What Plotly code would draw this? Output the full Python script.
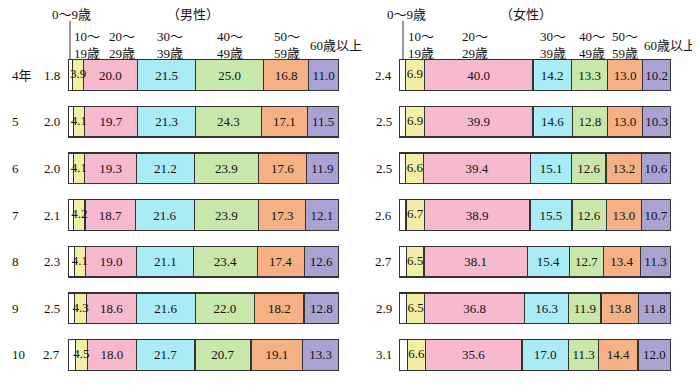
import plotly.graph_objects as go

years = ["4年", "5", "6", "7", "8", "9", "10"]
age_groups = ["0～9歳", "10～19歳", "20～29歳", "30～39歳", "40～49歳", "50～59歳", "60歳以上"]
header_labels = ["0～9歳", "10～<br>19歳", "20～<br>29歳", "30～<br>39歳", "40～<br>49歳", "50～<br>59歳", "60歳以上"]

male = [
    [1.8, 3.9, 20.0, 21.5, 25.0, 16.8, 11.0],
    [2.0, 4.1, 19.7, 21.3, 24.3, 17.1, 11.5],
    [2.0, 4.1, 19.3, 21.2, 23.9, 17.6, 11.9],
    [2.1, 4.2, 18.7, 21.6, 23.9, 17.3, 12.1],
    [2.3, 4.1, 19.0, 21.1, 23.4, 17.4, 12.6],
    [2.5, 4.3, 18.6, 21.6, 22.0, 18.2, 12.8],
    [2.7, 4.5, 18.0, 21.7, 20.7, 19.1, 13.3],
]
female = [
    [2.4, 6.9, 40.0, 14.2, 13.3, 13.0, 10.2],
    [2.5, 6.9, 39.9, 14.6, 12.8, 13.0, 10.3],
    [2.5, 6.6, 39.4, 15.1, 12.6, 13.2, 10.6],
    [2.6, 6.7, 38.9, 15.5, 12.6, 13.0, 10.7],
    [2.7, 6.5, 38.1, 15.4, 12.7, 13.4, 11.3],
    [2.9, 6.5, 36.8, 16.3, 11.9, 13.8, 11.8],
    [3.1, 6.6, 35.6, 17.0, 11.3, 14.4, 12.0],
]
colors = ["#ffffff", "#f2eea4", "#f7b9cd", "#a9ecf5", "#c9e7aa", "#f5b183", "#aaa2d3"]

FONT = "Liberation Serif, Noto Sans CJK JP"
W, H = 700, 387
# the page body has an 8px margin; layout pixel = screen pixel - OFF
OFF = 8
XMAX = 100.15  # printed shares sum to 100.1 in one row (rounding)
ypos = list(range(len(years)))


def px(x):
    return (x - OFF) / W


def py(y):
    return 1 - (y - OFF) / H


fig = go.Figure()


def add_panel(data, xa, ya):
    for j, g in enumerate(age_groups):
        vals = [row[j] for row in data]
        txt = [f"{v:.1f}" for v in vals] if j > 1 else [""] * len(vals)
        fig.add_trace(go.Bar(
            y=ypos, x=vals, orientation="h", name=g,
            marker=dict(color=colors[j], line=dict(color="#333333", width=1.2)),
            text=txt, textposition="inside", insidetextanchor="middle",
            constraintext="none", textangle=0, cliponaxis=False,
            textfont=dict(family=FONT, size=13, color="#111111"),
            width=0.66, xaxis=xa, yaxis=ya, showlegend=False,
            hoverinfo="x+name",
        ))
    # labels of the narrow 10～19歳 segment, drawn on top so they may overflow
    mids = [row[0] + row[1] / 2 for row in data]
    fig.add_trace(go.Scatter(
        x=mids, y=ypos, mode="text", text=[f"{row[1]:.1f}" for row in data],
        textposition="middle center",
        textfont=dict(family=FONT, size=13, color="#111111"),
        xaxis=xa, yaxis=ya, showlegend=False, hoverinfo="skip", cliponaxis=False,
    ))


add_panel(male, "x", "y")
add_panel(female, "x2", "y2")

ydom = [py(378.3), py(51.7)]
mdom = [px(68), px(339)]
fdom = [px(399), px(671)]

fig.update_layout(
    barmode="stack",
    width=W, height=H,
    margin=dict(l=0, r=0, t=0, b=0),
    paper_bgcolor="white", plot_bgcolor="white",
    font=dict(family=FONT, size=13, color="#111111"),
    xaxis=dict(domain=mdom, range=[0, XMAX], visible=False, fixedrange=True),
    xaxis2=dict(domain=fdom, range=[0, XMAX], visible=False, fixedrange=True),
    yaxis=dict(domain=ydom, range=[6.5, -0.5], visible=False, anchor="x"),
    yaxis2=dict(domain=ydom, range=[6.5, -0.5], visible=False, anchor="x2"),
)

ann = []
for i, yr in enumerate(years):
    ann.append(dict(x=px(10), y=i, xref="paper", yref="y", text=yr, showarrow=False,
                    xanchor="left", yanchor="middle", font=dict(size=13)))
    ann.append(dict(x=px(62), y=i, xref="paper", yref="y", text=f"{male[i][0]:.1f}",
                    showarrow=False, xanchor="right", yanchor="middle", font=dict(size=13)))
    ann.append(dict(x=px(394), y=i, xref="paper", yref="y", text=f"{female[i][0]:.1f}",
                    showarrow=False, xanchor="right", yanchor="middle", font=dict(size=13)))

ann.append(dict(x=px(193), y=py(15), xref="paper", yref="paper", text="（男性）",
                showarrow=False, xanchor="center", yanchor="middle", font=dict(size=13)))
ann.append(dict(x=px(526), y=py(15), xref="paper", yref="paper", text="（女性）",
                showarrow=False, xanchor="center", yanchor="middle", font=dict(size=13)))

m_hx = [50, 72, 107, 155, 215, 272, 308]
f_hx = [385, 406, 460, 538, 577, 610, 642]
for hx in (m_hx, f_hx):
    for j, lab in enumerate(header_labels):
        if j == 0:
            ann.append(dict(x=px(hx[0]), y=py(14), xref="paper", yref="paper",
                            text=lab, showarrow=False, xanchor="left", yanchor="middle",
                            font=dict(size=13)))
        else:
            ann.append(dict(x=px(hx[j]), y=py(45), xref="paper", yref="paper",
                            text=lab, showarrow=False, xanchor="left", yanchor="middle",
                            align="left", font=dict(size=13)))

fig.update_layout(annotations=ann)

shapes = [
    dict(type="line", xref="paper", yref="paper", x0=px(70), x1=px(70),
         y0=py(21), y1=py(60), line=dict(color="#333", width=1)),
    dict(type="line", xref="paper", yref="paper", x0=px(403), x1=px(403),
         y0=py(21), y1=py(60), line=dict(color="#333", width=1)),
]
fig.update_layout(shapes=shapes)

fig.write_html("out.html")
